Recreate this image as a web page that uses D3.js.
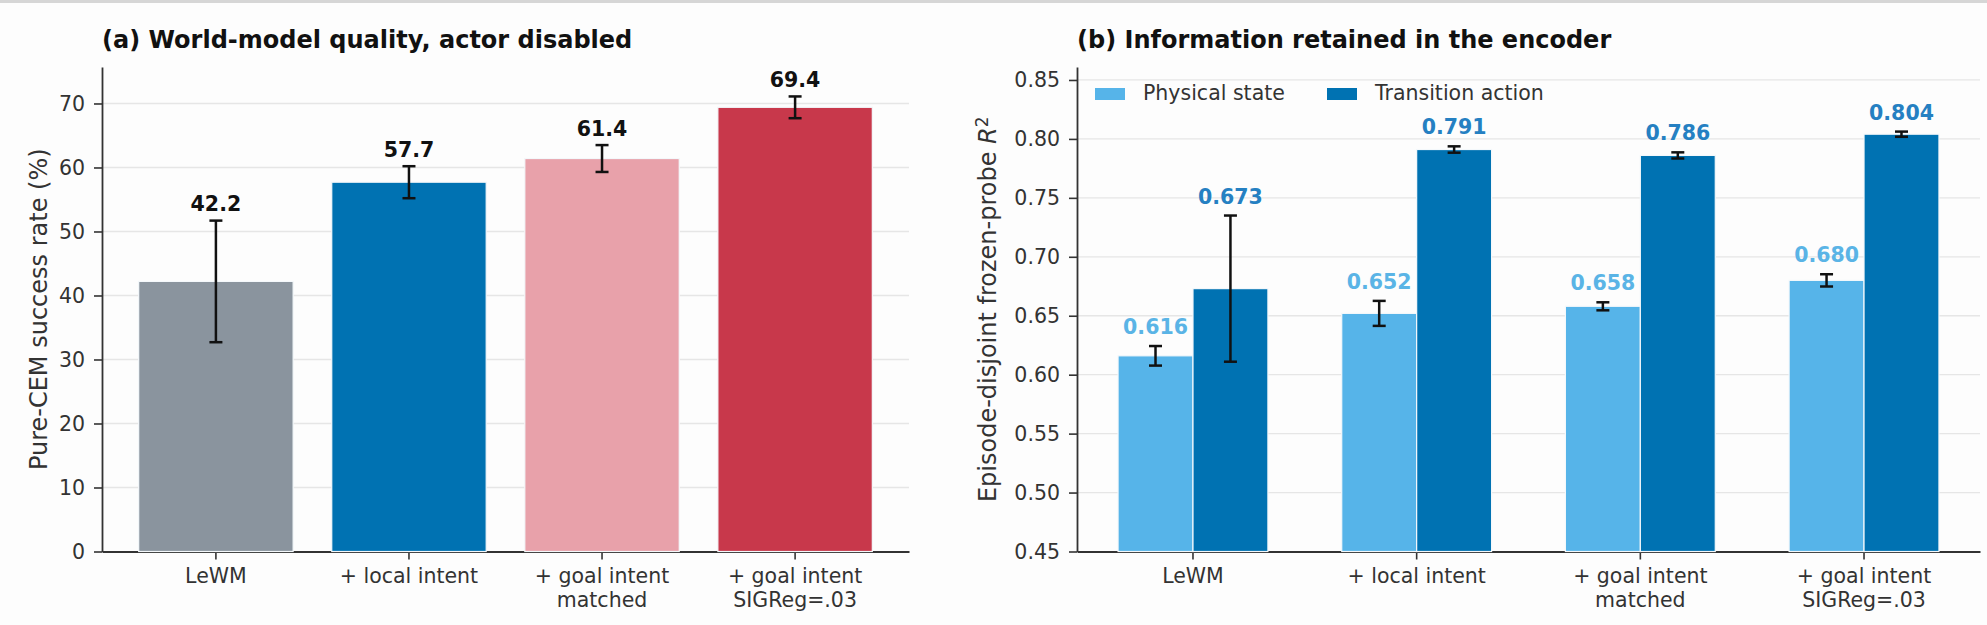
<!DOCTYPE html>
<html lang="en">
<meta charset="utf-8">
<title>World-model quality and encoder probes</title>
<head>
<style>
  body { margin: 0; background: #fdfdfd; }
  text { font-family: "DejaVu Sans", sans-serif; }
</style>
</head>
<body>
  <script src="https://d3js.org/d3.v7.min.js"></script>

  <div id="chart"></div>

  <script>

    // categories shared by both panels
    var categories = ["LeWM", "+ local intent", "+ goal intent\nmatched", "+ goal intent\nSIGReg=.03"];

    // panel (a): pure-CEM success rate (%)
    var successRate = [42.2, 57.7, 61.4, 69.4];
    var successErr = [9.5, 2.5, 2.1, 1.7];
    var barColorsA = ["#8a949e", "#0072b2", "#e8a1aa", "#c8384b"];
    var yTicksA = [0, 10, 20, 30, 40, 50, 60, 70];

    // panel (b): frozen-probe R^2
    var seriesNames = ["Physical state", "Transition action"];
    var physicalR2 = [0.616, 0.652, 0.658, 0.680];
    var physicalErr = [0.0083, 0.0106, 0.0034, 0.0052];
    var transitionR2 = [0.673, 0.791, 0.786, 0.804];
    var transitionErr = [0.062, 0.0027, 0.0026, 0.0022];
    var seriesColors = ["#56b4e9", "#0072b2"];
    var labelColors = ["#5ab4e6", "#2580c2"];
    var yTicksB = [0.45, 0.50, 0.55, 0.60, 0.65, 0.70, 0.75, 0.80, 0.85];

    var W = 1987, H = 625;
    var plotTop = 67, plotBottom = 551.5;
    var axisColor = "#333333";

    var svg = d3.select("#chart")
      .append("svg")
      .attr("width", W)
      .attr("height", H);

    svg.append("rect").attr("width", W).attr("height", H).attr("fill", "#fdfdfd");
    svg.append("rect").attr("width", W).attr("height", 3).attr("fill", "#d6d6d6");

    // split "a\nb" tick labels into tspans
    function wrapLines(sel) {
      sel.selectAll(".tick text").each(function () {
        var t = d3.select(this);
        var lines = t.text().split("\n");
        t.text(null);
        lines.forEach(function (l, i) {
          t.append("tspan").attr("x", 0).attr("dy", i === 0 ? "0.71em" : "1.17em").text(l);
        });
      });
    }

    function styleAxis(g) {
      g.select(".domain").attr("stroke", axisColor).attr("stroke-width", 1.8);
      g.selectAll(".tick line").attr("stroke", axisColor).attr("stroke-width", 1.6);
      g.selectAll(".tick text")
        .attr("fill", "#333")
        .style("font-size", "20.5px")
        .style("font-family", "DejaVu Sans");
    }

    function drawFrame(left, right, y, ticks, fmt, title) {
      // grid
      svg.append("g")
        .selectAll("line")
        .data(ticks.slice(1))
        .join("line")
        .attr("x1", left).attr("x2", right)
        .attr("y1", d => y(d)).attr("y2", d => y(d))
        .attr("stroke", "#e6e6e6")
        .attr("stroke-width", 1.3);

      // y axis
      var gy = svg.append("g")
        .attr("transform", "translate(" + left + ",0)")
        .call(d3.axisLeft(y).tickValues(ticks).tickFormat(fmt).tickSize(8).tickSizeOuter(0).tickPadding(9));
      styleAxis(gy);

      // title
      svg.append("text")
        .attr("x", left)
        .attr("y", 48)
        .attr("fill", "#111")
        .style("font-size", "24px")
        .style("font-weight", "bold")
        .text(title);
    }

    function errorBars(data, errs, cx, y, labelFill, labelFmt, offset) {
      var g = svg.append("g");
      data.forEach(function (v, i) {
        var x = cx(i);
        g.append("line")
          .attr("x1", x).attr("x2", x)
          .attr("y1", y(v - errs[i])).attr("y2", y(v + errs[i]))
          .attr("stroke", "#111").attr("stroke-width", 2.5);
        [v - errs[i], v + errs[i]].forEach(function (e) {
          g.append("line")
            .attr("x1", x - 6.5).attr("x2", x + 6.5)
            .attr("y1", y(e)).attr("y2", y(e))
            .attr("stroke", "#111").attr("stroke-width", 2.5);
        });
        g.append("text")
          .attr("x", x)
          .attr("y", y(v + errs[i]) - offset)
          .attr("text-anchor", "middle")
          .attr("fill", labelFill)
          .style("font-size", "20.5px")
          .style("font-weight", "bold")
          .text(labelFmt(v));
      });
    }

    // ---------- panel (a) ----------
    var leftA = 102, rightA = 909;
    var xA = d3.scaleBand()
      .domain(categories)
      .range([leftA, rightA])
      .paddingInner(0.2)
      .paddingOuter(0.19);
    var yA = d3.scaleLinear().domain([0, 75.7]).range([plotBottom, plotTop]);

    drawFrame(leftA, rightA, yA, yTicksA, d3.format("d"), "(a) World-model quality, actor disabled");

    var gxA = svg.append("g")
      .attr("transform", "translate(0," + plotBottom + ")")
      .call(d3.axisBottom(xA).tickSize(8).tickSizeOuter(0).tickPadding(9));
    styleAxis(gxA);
    wrapLines(gxA);

    svg.append("text")
      .attr("transform", "translate(47," + (plotTop + plotBottom) / 2 + ") rotate(-90)")
      .attr("text-anchor", "middle")
      .attr("fill", "#333")
      .style("font-size", "24px")
      .text("Pure-CEM success rate (%)");

    svg.append("g")
      .selectAll("rect")
      .data(successRate)
      .join("rect")
      .attr("x", (d, i) => xA(categories[i]))
      .attr("width", xA.bandwidth())
      .attr("y", d => yA(d))
      .attr("height", d => yA(0) - yA(d))
      .attr("fill", (d, i) => barColorsA[i])
      .attr("stroke", "#f4f8fb")
      .attr("stroke-width", 1.2);

    errorBars(successRate, successErr, i => xA(categories[i]) + xA.bandwidth() / 2, yA, "#111", d3.format(".1f"), 9.5);

    // ---------- panel (b) ----------
    var leftB = 1077, rightB = 1980;
    var x0 = d3.scaleBand()
      .domain(categories)
      .range([leftB, rightB])
      .paddingInner(0.33)
      .paddingOuter(0.1835);
    var x1 = d3.scaleBand().domain(seriesNames).range([0, x0.bandwidth()]);
    var yB = d3.scaleLinear().domain([0.45, 0.861]).range([plotBottom, plotTop]);

    drawFrame(leftB, rightB, yB, yTicksB, d3.format(".2f"), "(b) Information retained in the encoder");

    var gxB = svg.append("g")
      .attr("transform", "translate(0," + plotBottom + ")")
      .call(d3.axisBottom(x0).tickSize(8).tickSizeOuter(0).tickPadding(9));
    styleAxis(gxB);
    wrapLines(gxB);

    var ylabB = svg.append("text")
      .attr("transform", "translate(996," + (plotTop + plotBottom) / 2 + ") rotate(-90)")
      .attr("text-anchor", "middle")
      .attr("fill", "#333")
      .style("font-size", "24px");
    ylabB.append("tspan").text("Episode-disjoint frozen-probe ");
    ylabB.append("tspan").style("font-style", "italic").text("R");
    ylabB.append("tspan").attr("dy", "-0.5em").style("font-size", "17px").text("2");

    var seriesVals = [physicalR2, transitionR2];
    var seriesErrs = [physicalErr, transitionErr];

    seriesNames.forEach(function (s, k) {
      svg.append("g")
        .selectAll("rect")
        .data(seriesVals[k])
        .join("rect")
        .attr("x", (d, i) => x0(categories[i]) + x1(s))
        .attr("width", x1.bandwidth())
        .attr("y", d => yB(d))
        .attr("height", d => yB(0.45) - yB(d))
        .attr("fill", seriesColors[k])
        .attr("stroke", "#f4f8fb")
        .attr("stroke-width", 1.2);
    });

    seriesNames.forEach(function (s, k) {
      errorBars(seriesVals[k], seriesErrs[k],
        i => x0(categories[i]) + x1(s) + x1.bandwidth() / 2,
        yB, labelColors[k], d3.format(".3f"), 12);
    });

    // legend
    var legendX = [leftB + 18, leftB + 250];
    seriesNames.forEach(function (s, k) {
      svg.append("rect")
        .attr("x", legendX[k]).attr("y", 88)
        .attr("width", 30).attr("height", 12)
        .attr("fill", seriesColors[k]);
      svg.append("text")
        .attr("x", legendX[k] + 48).attr("y", 100)
        .attr("fill", "#333")
        .style("font-size", "20.5px")
        .text(s);
    });

  </script>
</body>
</html>
